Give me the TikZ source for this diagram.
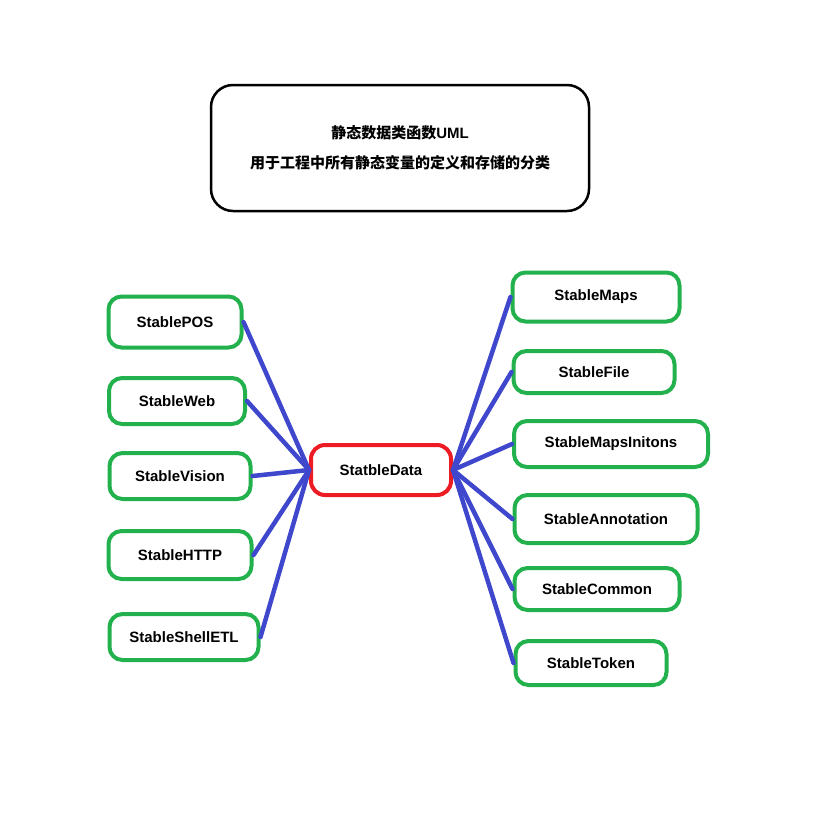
\documentclass[tikz,border=0pt]{standalone}
\usepackage{fontspec}
\setmainfont{Liberation Sans}
\newfontfamily\cjk{Noto Sans CJK SC}
\usetikzlibrary{arrows.meta}

\definecolor{paintgreen}{RGB}{34,177,76}
\definecolor{paintred}{RGB}{237,28,36}
\definecolor{paintblue}{RGB}{63,72,204}

\begin{document}
\begin{tikzpicture}[
x=1pt, y=-1pt,
font=\fontsize{15}{18}\selectfont\bfseries,
titlebox/.style={rectangle, rounded corners=22pt, draw=black, line width=2.5pt, align=center, minimum width=378pt, minimum height=126pt},
hubbox/.style={rectangle, rounded corners=14pt, draw=paintred, line width=4pt, minimum width=140pt, minimum height=50pt},
leafbox/.style={rectangle, rounded corners=13pt, draw=paintgreen, line width=4pt, minimum height=46pt},
link/.style={draw=paintblue, line width=4.5pt, line cap=round}
]
\useasboundingbox (0,0) rectangle (824,817);

\node[titlebox] (title) at (400,148) {{\cjk\bfseries 静态数据类函数}UML\\[12pt] {\cjk\bfseries 用于工程中所有静态变量的定义和存储的分类}};

\node[hubbox] (data) at (381,470) {StatbleData};

% left side
\node[leafbox, minimum width=133pt, minimum height=51pt] (pos) at (175,322) {StablePOS};
\node[leafbox, minimum width=136pt] (web) at (177,401) {StableWeb};
\node[leafbox, minimum width=141pt] (vision) at (180,476) {StableVision};
\node[leafbox, minimum width=143pt, minimum height=48pt] (http) at (180,555) {StableHTTP};
\node[leafbox, minimum width=149pt] (shell) at (184,637) {StableShellETL};

% right side
\node[leafbox, minimum width=167pt, minimum height=49pt] (maps) at (596,297) {StableMaps};
\node[leafbox, minimum width=161pt, minimum height=42pt] (file) at (594,372) {StableFile};
\node[leafbox, minimum width=194pt] (initons) at (611,444) {StableMapsInitons};
\node[leafbox, minimum width=183pt, minimum height=48pt] (annot) at (606,519) {StableAnnotation};
\node[leafbox, minimum width=165pt, minimum height=42pt] (common) at (597,589) {StableCommon};
\node[leafbox, minimum width=151pt, minimum height=44pt] (token) at (591,663) {StableToken};

\foreach \leaf in {pos, web, vision, http, shell}
  \draw[link] (\leaf.east) -- (data.west);
\foreach \leaf in {maps, file, initons, annot, common, token}
  \draw[link] (data.east) -- (\leaf.west);

\end{tikzpicture}
\end{document}
